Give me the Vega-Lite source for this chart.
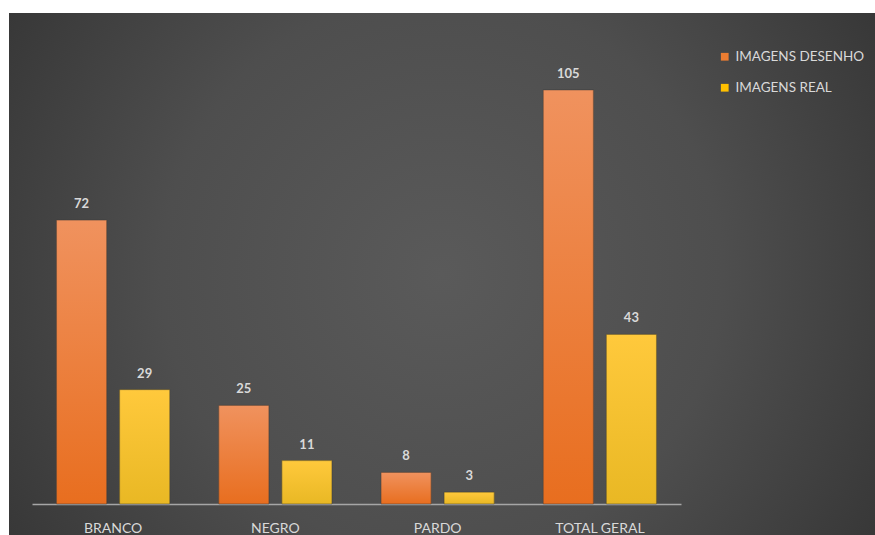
{
  "$schema": "https://vega.github.io/schema/vega-lite/v6.json",
  "width": 866,
  "height": 522,
  "autosize": {"type": "none"},
  "padding": {"left": 9, "top": 13, "right": 0, "bottom": 0},
  "background": "#ffffff",
  "config": {
    "view": {
      "stroke": null,
      "fill": {
        "gradient": "radial",
        "x1": 0.5, "y1": 0.5, "r1": 0,
        "x2": 0.5, "y2": 0.5, "r2": 0.72,
        "stops": [
          {"offset": 0, "color": "#5a5a5a"},
          {"offset": 0.45, "color": "#4e4e4e"},
          {"offset": 1, "color": "#2c2c2c"}
        ]
      }
    },
    "font": "Lato"
  },
  "data": {
    "values": [
      {"categoria": "BRANCO", "serie": "IMAGENS DESENHO", "valor": 72},
      {"categoria": "BRANCO", "serie": "IMAGENS REAL", "valor": 29},
      {"categoria": "NEGRO", "serie": "IMAGENS DESENHO", "valor": 25},
      {"categoria": "NEGRO", "serie": "IMAGENS REAL", "valor": 11},
      {"categoria": "PARDO", "serie": "IMAGENS DESENHO", "valor": 8},
      {"categoria": "PARDO", "serie": "IMAGENS REAL", "valor": 3},
      {"categoria": "TOTAL GERAL", "serie": "IMAGENS DESENHO", "valor": 105},
      {"categoria": "TOTAL GERAL", "serie": "IMAGENS REAL", "valor": 43}
    ]
  },
  "encoding": {
    "x": {
      "field": "categoria",
      "type": "nominal",
      "sort": ["BRANCO", "NEGRO", "PARDO", "TOTAL GERAL"],
      "scale": {"range": [23, 672], "paddingInner": 0, "paddingOuter": 0},
      "axis": {
        "title": null,
        "labelAngle": 0,
        "offset": -31,
        "domainColor": "#a6a6a6",
        "domainWidth": 1.5,
        "ticks": false,
        "labelColor": "#d9d9d9",
        "labelFontSize": 14,
        "labelPadding": 17,
        "labelFont": "Lato"
      }
    },
    "xOffset": {
      "field": "serie",
      "type": "nominal",
      "scale": {"paddingInner": 0.206, "paddingOuter": 0.389}
    },
    "y": {
      "field": "valor",
      "type": "quantitative",
      "stack": null,
      "scale": {"domain": [-7.86, 124.5], "nice": false, "zero": false},
      "axis": null
    }
  },
  "layer": [
    {
      "mark": {"type": "bar"},
      "encoding": {
        "y2": {"datum": 0},
        "color": {
          "field": "serie",
          "type": "nominal",
          "scale": {"domain": ["IMAGENS DESENHO", "IMAGENS REAL"], "range": ["#ed7d31", "#ffc000"]},
          "legend": {
            "title": null,
            "orient": "none",
            "legendX": 709,
            "legendY": 37,
            "symbolType": "square",
            "symbolSize": 60,
            "symbolStrokeWidth": 0,
            "labelColor": "#d9d9d9",
            "labelFontSize": 13.5,
            "labelFont": "Lato",
            "rowPadding": 16,
            "labelOffset": 4
          }
        }
      }
    },
    {
      "mark": {"type": "bar", "stroke": "#3a3a3a", "strokeOpacity": 0.5, "strokeWidth": 1},
      "encoding": {
        "y2": {"datum": 0},
        "fill": {
          "condition": {
            "test": "datum.serie === 'IMAGENS DESENHO'",
            "value": {
              "gradient": "linear", "x1": 0, "y1": 0, "x2": 0, "y2": 1,
              "stops": [
                {"offset": 0, "color": "#f0925e"},
                {"offset": 1, "color": "#e86e1f"}
              ]
            }
          },
          "value": {
            "gradient": "linear", "x1": 0, "y1": 0, "x2": 0, "y2": 1,
            "stops": [
              {"offset": 0, "color": "#ffc93c"},
              {"offset": 1, "color": "#e9b824"}
            ]
          }
        }
      }
    },
    {
      "mark": {"type": "text", "baseline": "bottom", "dy": -9, "fontSize": 13, "fontWeight": "bold", "color": "#d9d9d9", "font": "Lato"},
      "encoding": {
        "text": {"field": "valor", "type": "quantitative"}
      }
    }
  ]
}
